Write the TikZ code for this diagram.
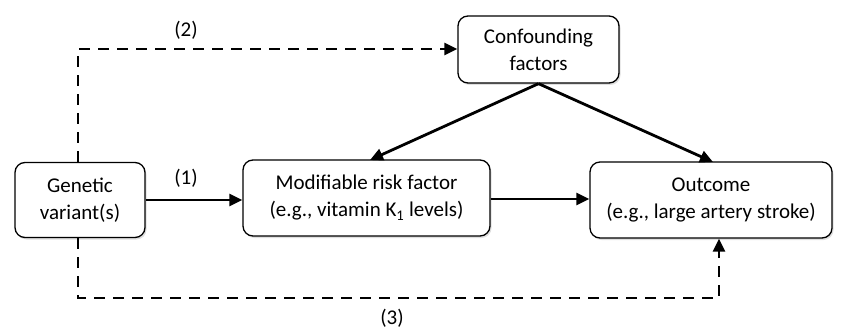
\documentclass[tikz,border=0pt]{standalone}
\usepackage{fontspec}
\setmainfont{Carlito}
\usetikzlibrary{arrows.meta,shadows}
\begin{document}
\begin{tikzpicture}[x=1pt,y=-1pt,
  box/.style={draw, line width=1.3pt, rounded corners=10pt, fill=white, align=center,
    font=\fontsize{21}{27}\selectfont, inner sep=0pt,
    drop shadow={shadow xshift=1.5pt, shadow yshift=-2pt, fill=black!25, opacity=0.5}},
  arr/.style={line width=2.8pt, -{Triangle[length=13pt,width=12pt]}},
  darr/.style={arr, dash pattern=on 11pt off 8pt},
  lab/.style={font=\fontsize{21}{25}\selectfont}]
\useasboundingbox (0,0) rectangle (842,331);
\node[box, minimum width=130pt, minimum height=75pt] (gen) at (80,200) {Genetic\\variant(s)};
\node[box, minimum width=247pt, minimum height=76pt] (mod) at (366.5,198) {Modifiable risk factor\\(e.g., vitamin K\textsubscript{1} levels)};
\node[box, minimum width=161pt, minimum height=67pt] (conf) at (538.5,49.5) {Confounding\\factors};
\node[box, minimum width=242pt, minimum height=76pt] (out) at (711,200) {Outcome\\(e.g., large artery stroke)};
\coordinate (c2) at (78,49);
\coordinate (c3a) at (78,298);
\coordinate (c3b) at (719,298);
\draw[arr] (gen.east |- 0,200) -- (mod.west |- 0,200);
\draw[arr] (mod.east |- 0,199) -- (out.west |- 0,199);
\draw[arr] (conf.south) -- (370,160);
\draw[arr] (conf.south) -- (713,162);
\draw[darr] (gen.north -| c2) -- (c2) -- (conf.west |- c2);
\draw[darr] (gen.south -| c3a) -- (c3a) -- (c3b) -- (c3b |- out.south);
\node[lab] (l1) at (186,178) {(1)};
\node[lab] (l2) at (186,30) {(2)};
\node[lab] (l3) at (392,318) {(3)};
\end{tikzpicture}
\end{document}
